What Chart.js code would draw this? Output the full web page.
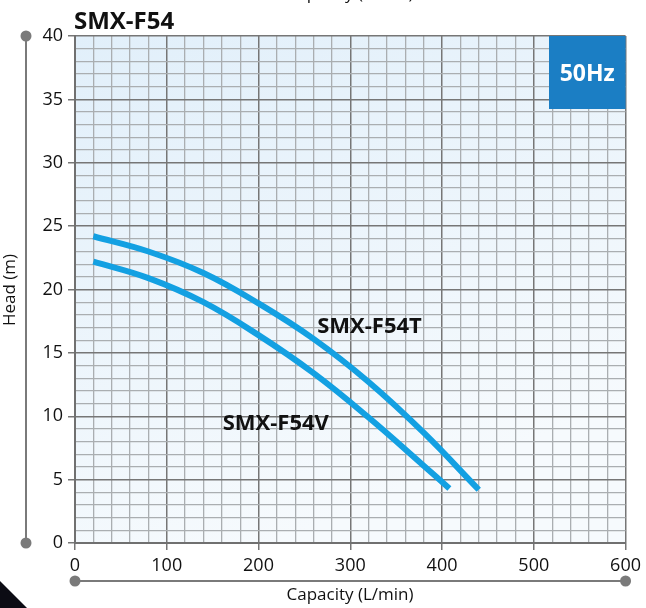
<!DOCTYPE html>
<html>
<head>
<meta charset="utf-8">
<script src="https://cdn.jsdelivr.net/npm/chart.js@4.4.1/dist/chart.umd.min.js"></script>
<style>
  html, body { margin: 0; padding: 0; background: #fff; }
  canvas { display: block; }
</style>
</head>
<body>
<canvas id="pumpChart" width="646" height="608"></canvas>
<script>
// curve readings (capacity L/min -> head m)
const capT = [20, 80, 140, 200, 260, 320, 380, 440];
const headT = [24.2, 23.0, 21.3, 18.9, 16.1, 12.7, 8.7, 4.2];
const capV = [20, 80, 140, 200, 260, 320, 380, 408];
const headV = [22.2, 20.9, 19.0, 16.4, 13.4, 9.9, 6.1, 4.3];

const xTickLabels = [0, 100, 200, 300, 400, 500, 600];
const yTickLabels = [0, 5, 10, 15, 20, 25, 30, 35, 40];

const seriesNames = ['SMX-F54T', 'SMX-F54V'];
const chartTitle = 'SMX-F54';
const freqLabel = '50Hz';
const xTitle = 'Capacity (L/min)';
const yTitle = 'Head (m)';

const FONT = '"Open Sans", "Noto Sans", sans-serif';
const curveColor = '#13a0e2';
const majorGrid = '#767676';
const minorGrid = '#aaaeb1';

function toPoints(xs, ys) {
    return xs.map((x, i) => ({ x: x, y: ys[i] }));
}

const decorPlugin = {
    id: 'decor',
    beforeDraw(chart) {
        const { ctx, chartArea: a } = chart;
        const g = ctx.createLinearGradient(a.left, a.top, a.left + 200, a.bottom);
        g.addColorStop(0, '#e1effa');
        g.addColorStop(1, '#f6fafd');
        ctx.save();
        ctx.fillStyle = g;
        ctx.fillRect(a.left, a.top, a.right - a.left, a.bottom - a.top);
        ctx.restore();
    },
    afterDraw(chart) {
        const { ctx, chartArea: a, scales } = chart;
        const xs = scales.x, ys = scales.y;
        ctx.save();

        // 50Hz box
        ctx.fillStyle = '#1b7ec4';
        ctx.fillRect(549, a.top, a.right - 549, 73);
        ctx.fillStyle = '#ffffff';
        ctx.font = 'bold 23px ' + FONT;
        ctx.textAlign = 'center';
        ctx.textBaseline = 'middle';
        ctx.fillText(freqLabel, (549 + a.right) / 2, a.top + 38);

        // title
        ctx.fillStyle = '#111';
        ctx.font = 'bold 24px ' + FONT;
        ctx.textAlign = 'left';
        ctx.textBaseline = 'alphabetic';
        ctx.fillText(chartTitle, a.left - 1, 29);

        // curve names
        ctx.font = 'bold 22px ' + FONT;
        ctx.textBaseline = 'middle';
        ctx.fillText(seriesNames[0], xs.getPixelForValue(264), ys.getPixelForValue(17.1));
        ctx.fillText(seriesNames[1], xs.getPixelForValue(161), ys.getPixelForValue(9.4));

        // axis titles
        ctx.font = '17px ' + FONT;
        ctx.textAlign = 'center';
        ctx.fillStyle = '#111';
        ctx.fillText(xTitle, 350, 595);
        ctx.fillText(xTitle, 350, -6);
        ctx.save();
        ctx.translate(10, 290);
        ctx.rotate(-Math.PI / 2);
        ctx.fillText(yTitle, 0, 0);
        ctx.restore();

        // decorative axis bars with dots
        ctx.strokeStyle = '#7a7a7a';
        ctx.fillStyle = '#7a7a7a';
        ctx.lineWidth = 2;
        ctx.beginPath();
        ctx.moveTo(26, a.top);
        ctx.lineTo(26, a.bottom);
        ctx.moveTo(a.left, 581);
        ctx.lineTo(a.right, 581);
        ctx.stroke();
        [[26, a.top], [26, a.bottom], [a.left, 581], [a.right, 581]].forEach(p => {
            ctx.beginPath();
            ctx.arc(p[0], p[1], 5.5, 0, Math.PI * 2);
            ctx.fill();
        });

        // corner triangle
        ctx.fillStyle = '#0c0c14';
        ctx.beginPath();
        ctx.moveTo(0, 581);
        ctx.lineTo(27, 608);
        ctx.lineTo(0, 608);
        ctx.closePath();
        ctx.fill();

        ctx.restore();
    }
};

const ctx = document.getElementById('pumpChart').getContext('2d');
new Chart(ctx, {
    type: 'scatter',
    data: {
        datasets: [
            { label: seriesNames[0], data: toPoints(capT, headT) },
            { label: seriesNames[1], data: toPoints(capV, headV) }
        ].map(d => Object.assign(d, {
            showLine: true,
            borderColor: curveColor,
            borderWidth: 6,
            borderCapStyle: 'butt',
            pointRadius: 0,
            tension: 0.4
        }))
    },
    options: {
        responsive: false,
        animation: false,
        devicePixelRatio: 1,
        layout: { padding: { left: 0, right: 20, top: 36, bottom: 0 } },
        plugins: {
            legend: { display: false },
            tooltip: { enabled: false }
        },
        scales: {
            x: {
                type: 'linear',
                min: 0,
                max: 600,
                afterFit: s => { s.height = 65; },
                border: { display: true, color: '#707070', width: 2 },
                grid: {
                    color: c => c.tick.value % 100 === 0 ? majorGrid : minorGrid,
                    lineWidth: c => c.tick.value % 100 === 0 ? 1.5 : 1.3,
                    tickColor: c => c.tick.value % 100 === 0 ? majorGrid : 'rgba(0,0,0,0)',
                    tickLength: 7
                },
                ticks: {
                    stepSize: 20,
                    autoSkip: false,
                    maxRotation: 0,
                    padding: 5,
                    color: '#111',
                    font: { family: FONT, size: 18 },
                    callback: v => xTickLabels.includes(v) ? String(v) : ''
                }
            },
            y: {
                type: 'linear',
                min: 0,
                max: 40,
                afterFit: s => { s.width = 75; },
                border: { display: true, color: '#707070', width: 2 },
                grid: {
                    color: c => c.tick.value % 5 === 0 ? majorGrid : minorGrid,
                    lineWidth: c => c.tick.value % 5 === 0 ? 1.5 : 1.3,
                    tickColor: c => c.tick.value % 5 === 0 ? majorGrid : 'rgba(0,0,0,0)',
                    tickLength: 7
                },
                ticks: {
                    stepSize: 1,
                    autoSkip: false,
                    padding: 5,
                    color: '#111',
                    font: { family: FONT, size: 18 },
                    callback: v => yTickLabels.includes(v) ? String(v) : ''
                }
            }
        }
    },
    plugins: [decorPlugin]
});
</script>
</body>
</html>
